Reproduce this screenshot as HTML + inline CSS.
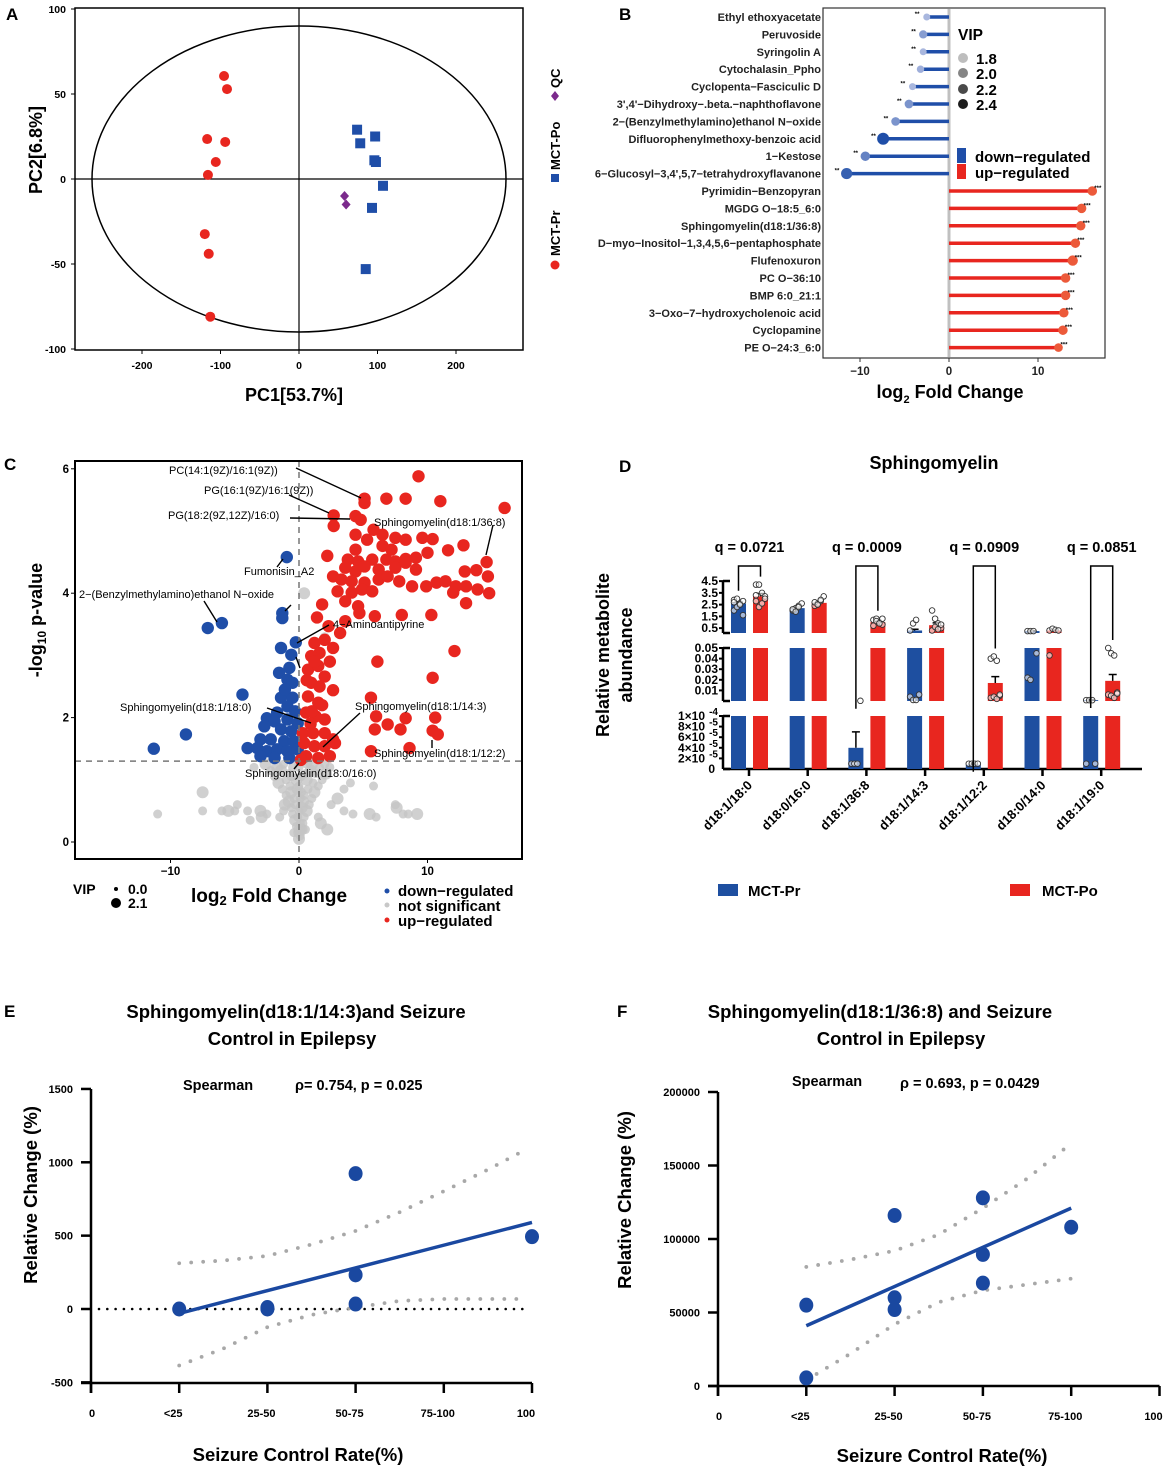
<!DOCTYPE html>
<html><head><meta charset="utf-8"><style>
html,body{margin:0;padding:0;background:#fff;}
svg{display:block;font-family:"Liberation Sans",Arial,sans-serif;}
.b{font-weight:bold;}
</style></head><body>
<svg id="fig" width="1169" height="1469" viewBox="0 0 1169 1469" xmlns="http://www.w3.org/2000/svg">
<rect width="1169" height="1469" fill="#fff"/>
<text x="6" y="20" class="b" font-size="17">A</text>
<text x="619" y="20" class="b" font-size="17">B</text>
<text x="4" y="470" class="b" font-size="17">C</text>
<text x="619" y="472" class="b" font-size="17">D</text>
<text x="4" y="1017" class="b" font-size="17">E</text>
<text x="617" y="1017" class="b" font-size="17">F</text>

<g id="pA">
<rect x="75" y="8" width="448" height="342" fill="none" stroke="#000" stroke-width="1.5"/>
<text x="294" y="401" class="b" font-size="18" text-anchor="middle">PC1[53.7%]</text>
<text transform="translate(42,150) rotate(-90)" class="b" font-size="18" text-anchor="middle">PC2[6.8%]</text>
<g>
<text transform="translate(560,256) rotate(-90)" class="b" font-size="13">MCT-Pr</text>
<text transform="translate(560,170) rotate(-90)" class="b" font-size="13">MCT-Po</text>
<text transform="translate(560,88) rotate(-90)" class="b" font-size="13">QC</text>
<circle cx="555" cy="265" r="4.5" fill="#e8261f"/>
<rect x="551" y="174" width="8" height="8" fill="#1f4ea8"/>
<path d="M555 91 L559 96 L555 101 L551 96Z" fill="#7b2a8c"/>
</g>
</g>

<g id="pB">
<rect x="823" y="8" width="282" height="350" fill="none" stroke="#333" stroke-width="1.2"/>
<text x="950" y="398" class="b" font-size="18" text-anchor="middle">log<tspan font-size="11" dy="5">2</tspan><tspan dy="-5"> Fold Change</tspan></text>
<text x="958" y="40" class="b" font-size="15.5">VIP</text>
<circle cx="963" cy="58" r="5" fill="#bdbdbd"/>
<circle cx="963" cy="73" r="5" fill="#858585"/>
<circle cx="963" cy="89" r="5" fill="#4a4a4a"/>
<circle cx="963" cy="104" r="5" fill="#1c1c1c"/>
<text x="976" y="64" class="b" font-size="15">1.8</text>
<text x="976" y="79" class="b" font-size="15">2.0</text>
<text x="976" y="95" class="b" font-size="15">2.2</text>
<text x="976" y="110" class="b" font-size="15">2.4</text>
<rect x="957" y="148" width="9" height="15" fill="#1f4ea8"/>
<rect x="957" y="164" width="9" height="15" fill="#e8261f"/>
<text x="975" y="162" class="b" font-size="15">down−regulated</text>
<text x="975" y="178" class="b" font-size="15">up−regulated</text>
</g>

<g id="pC">
<text transform="translate(42,620) rotate(-90)" class="b" font-size="18" text-anchor="middle">-log<tspan font-size="12" dy="4">10</tspan><tspan dy="-4"> p-value</tspan></text>
<text x="191" y="902" class="b" font-size="19">log<tspan font-size="13" dy="3">2</tspan><tspan dy="-3">  Fold Change</tspan></text>
<text x="73" y="894" class="b" font-size="14">VIP</text>
<circle cx="116" cy="889" r="2" fill="#000"/>
<circle cx="116" cy="903" r="5" fill="#000"/>
<text x="128" y="894" class="b" font-size="14">0.0</text>
<text x="128" y="908" class="b" font-size="14">2.1</text>
<circle cx="387" cy="891" r="2.5" fill="#1f4ea8"/>
<circle cx="387" cy="905" r="2.5" fill="#c8c8c8"/>
<circle cx="387" cy="920" r="2.5" fill="#e8261f"/>
<text x="398" y="896" class="b" font-size="15">down−regulated</text>
<text x="398" y="911" class="b" font-size="15">not significant</text>
<text x="398" y="926" class="b" font-size="15">up−regulated</text>
</g>

<g id="pD">
<text x="934" y="469" class="b" font-size="18" text-anchor="middle">Sphingomyelin</text>
<text transform="translate(609,655) rotate(-90)" class="b" font-size="18" text-anchor="middle">Relative metabolite</text>
<text transform="translate(632,655) rotate(-90)" class="b" font-size="18" text-anchor="middle">abundance</text>
<rect x="718" y="884" width="20" height="12" fill="#1e4fa0"/>
<text x="748" y="896" class="b" font-size="15">MCT-Pr</text>
<rect x="1010" y="884" width="20" height="12" fill="#e8261f"/>
<text x="1042" y="896" class="b" font-size="15">MCT-Po</text>
</g>

<g id="pE">
<text x="296" y="1018" class="b" font-size="18.5" text-anchor="middle">Sphingomyelin(d18:1/14:3)and Seizure</text>
<text x="292" y="1045" class="b" font-size="18.5" text-anchor="middle">Control in Epilepsy</text>
<text x="183" y="1090" class="b" font-size="14.5">Spearman</text>
<text x="295" y="1090" class="b" font-size="14.5">ρ= 0.754, p = 0.025</text>
<text transform="translate(37,1195) rotate(-90)" class="b" font-size="18.5" text-anchor="middle">Relative Change (%)</text>
<text x="298" y="1461" class="b" font-size="18.5" text-anchor="middle">Seizure Control Rate(%)</text>
</g>

<g id="pF">
<text x="880" y="1018" class="b" font-size="18.5" text-anchor="middle">Sphingomyelin(d18:1/36:8) and Seizure</text>
<text x="901" y="1045" class="b" font-size="18.5" text-anchor="middle">Control in Epilepsy</text>
<text x="792" y="1086" class="b" font-size="14.5">Spearman</text>
<text x="900" y="1088" class="b" font-size="14.5">ρ = 0.693, p = 0.0429</text>
<text transform="translate(631,1200) rotate(-90)" class="b" font-size="18.5" text-anchor="middle">Relative Change (%)</text>
<text x="942" y="1462" class="b" font-size="18.5" text-anchor="middle">Seizure Control Rate(%)</text>
</g>
</svg>

<script>
// Panel A (PCA)
const pcaPrX = [-95.5,-91.7,-117,-94,-106,-116,-120,-115,-113];
const pcaPrY = [60.6,52.9,23.5,21.8,10,2.4,-32.4,-44,-81];
const pcaPoX = [74,97,78,96,98,107,93,85];
const pcaPoY = [29,25,21,11,10,-4,-17,-53];
const pcaQcX = [58,60];
const pcaQcY = [-10,-15];
const pcaXTicks = [-200,-100,0,100,200];
const pcaYTicks = [100,50,0,-50,-100];

// Panel B (lollipop)
const bNames = ["Ethyl ethoxyacetate","Peruvoside","Syringolin A","Cytochalasin_Ppho","Cyclopenta−Fasciculic D","3',4'−Dihydroxy−.beta.−naphthoflavone","2−(Benzylmethylamino)ethanol N−oxide","Difluorophenylmethoxy-benzoic acid","1−Kestose","6−Glucosyl−3,4',5,7−tetrahydroxyflavanone","Pyrimidin−Benzopyran","MGDG O−18:5_6:0","Sphingomyelin(d18:1/36:8)","D−myo−Inositol−1,3,4,5,6−pentaphosphate","Flufenoxuron","PC O−36:10","BMP 6:0_21:1","3−Oxo−7−hydroxycholenoic acid","Cyclopamine","PE O−24:3_6:0"];
const bFC = [-2.5,-2.9,-2.9,-3.2,-4.1,-4.5,-6.0,-7.4,-9.4,-11.5,16.1,14.9,14.8,14.2,13.9,13.1,13.1,12.9,12.8,12.3];
const bVIP = [1.8,1.95,1.8,1.85,1.8,2.0,2.0,2.4,2.1,2.3,2.1,2.1,2.1,2.1,2.2,2.1,2.1,2.1,2.1,2.0];
const bXTicks = [-10,0,10];

// Panel C (volcano) [log2FC, -log10 p]
const upPts = [[9.3,5.88],[5.1,5.52],[5.1,5.45],[6.8,5.52],[8.3,5.52],[11.0,5.48],[16.0,5.37],[2.7,5.25],[2.7,5.08],[4.4,5.24],[4.8,5.18],[4.4,4.94],[5.8,5.02],[5.3,4.86],[6.5,4.94],[7.5,4.89],[8.3,4.86],[9.6,4.89],[10.4,4.87],[11.6,4.69],[12.8,4.77],[2.2,4.6],[4.4,4.7],[6.5,4.76],[7.2,4.7],[8.3,4.55],[9.1,4.57],[10.0,4.65],[3.8,4.54],[4.6,4.51],[5.7,4.54],[6.8,4.54],[7.5,4.51],[3.6,4.41],[4.4,4.35],[5.1,4.43],[6.2,4.38],[7.5,4.41],[8.3,4.49],[9.1,4.38],[12.9,4.35],[13.8,4.37],[14.6,4.5],[14.7,4.27],[2.65,4.27],[3.3,4.22],[4.1,4.19],[5.1,4.17],[6.2,4.22],[6.9,4.27],[7.8,4.19],[8.8,4.11],[9.9,4.11],[10.7,4.17],[11.4,4.19],[12.2,4.11],[13.0,4.11],[13.9,4.06],[14.8,4.0],[12.0,4.01],[3.0,4.03],[4.1,4.01],[4.9,4.06],[5.7,4.03],[3.6,3.87],[4.6,3.79],[4.7,3.68],[5.9,3.63],[8.0,3.65],[10.3,3.65],[13.0,3.84],[1.8,3.82],[1.4,3.61],[2.3,3.47],[3.2,3.36],[3.6,3.55],[1.2,3.2],[2.0,3.25],[2.65,3.12],[1.6,3.04],[0.95,2.99],[12.1,3.07],[6.1,2.9],[0.7,2.77],[1.5,2.83],[2.0,2.66],[10.4,2.64],[0.95,2.56],[1.6,2.5],[2.65,2.44],[5.6,2.32],[0.7,2.34],[1.5,2.24],[0.55,2.08],[1.3,2.02],[2.0,1.97],[6.0,2.02],[8.3,1.99],[10.6,2.0],[5.9,1.81],[6.9,1.89],[7.9,1.81],[10.4,1.79],[10.8,1.73],[0.3,1.75],[1.1,1.75],[2.0,1.75],[2.65,1.65],[0.4,1.59],[1.2,1.54],[2.0,1.54],[2.8,1.59],[5.6,1.46],[8.6,1.51],[0.55,1.38],[1.5,1.35],[2.4,1.38],[0.15,1.32],[0.9,1.9],[1.8,2.2],[0.6,2.6],[1.2,2.9],[2.4,2.9],[1.0,2.1]];
const downPts = [[-0.95,4.58],[-1.3,3.68],[-1.3,3.6],[-6.0,3.52],[-7.1,3.44],[-0.25,3.21],[-1.4,3.12],[-0.6,3.01],[-0.75,2.8],[-1.55,2.72],[-0.9,2.61],[-0.5,2.56],[-4.4,2.37],[-1.4,2.32],[-0.5,2.32],[-0.9,2.18],[-1.7,2.08],[-2.5,1.99],[-1.9,1.94],[-0.9,1.97],[-0.1,1.91],[-2.7,1.86],[-1.4,1.81],[-0.6,1.78],[-8.8,1.73],[-3.0,1.65],[-2.2,1.65],[-1.15,1.62],[-0.4,1.62],[-4.0,1.51],[-3.25,1.51],[-2.5,1.46],[-1.7,1.49],[-0.9,1.46],[-0.1,1.49],[-11.3,1.5],[-3.0,1.38],[-1.9,1.35],[-0.75,1.35],[-0.3,2.1],[-1.1,2.45]];
const nsPts = [[0,0.05],[0.1,0.1],[-0.1,0.15],[0.2,0.2],[-0.2,0.25],[0.3,0.3],[-0.3,0.35],[0.4,0.4],[-0.5,0.45],[0.6,0.5],[-0.6,0.55],[0.8,0.6],[-0.8,0.65],[1.0,0.7],[-1.0,0.75],[1.2,0.8],[-1.3,0.85],[1.5,0.9],[-1.6,0.95],[1.8,1.0],[-1.9,1.05],[2.1,1.1],[-2.2,1.15],[2.4,1.2],[-2.6,1.25],[0,0.5],[0.2,0.8],[-0.2,1.0],[0.5,1.1],[-0.5,1.2],[1,1.25],[-1,1.0],[0,1.2],[0.3,0.65],[-0.4,0.7],[0,0.9],[0.6,1.0],[-0.7,0.9],[1.3,1.1],[-1.4,1.15],[0.1,0.3],[-0.1,0.4],[0.2,0.55],[-0.3,0.6],[0.4,0.75],[-0.6,0.8],[0.7,0.85],[-0.8,1.1],[0.9,1.15],[-1.2,1.25],[1.6,1.2],[-1.7,1.2],[2.0,1.25],[0.1,0.7],[-0.1,0.85],[0.15,1.05],[-0.05,1.28],[0.6,1.28],[-0.6,1.05],[1.1,0.95],[-1.1,0.6],[0.5,0.2],[-0.4,0.15],[0.05,0.2],[-7.5,0.5],[-6,0.5],[-5.5,0.5],[-5,0.5],[-4,0.5],[-3,0.5],[-2.5,0.45],[-11,0.45],[-7.5,0.8],[-4.8,0.6],[-3.8,0.35],[5.5,0.45],[6,0.4],[7.5,0.6],[7.6,0.55],[8.1,0.45],[8.5,0.45],[9.2,0.45],[4.2,0.45],[3.5,0.5],[3,0.7],[2.5,0.6],[5.8,0.9],[0.4,4.0],[2,3.3],[4,0.95],[-2.9,0.4],[-1.5,0.4],[1.5,0.4],[2.2,0.2],[3.5,0.85],[-3.5,1.2],[1.7,0.3],[-1.2,0.5]];
const volcXTicks = [-10,0,10];
const volcYTicks = [0,2,4,6];

// Panel D (bar chart)
const dCats = ["d18:1/18:0","d18:0/16:0","d18:1/36:8","d18:1/14:3","d18:1/12:2","d18:0/14:0","d18:1/19:0"];
const dPr = [2.6,2.2,0.00004,0.3,0.000008,0.25,0.0008];
const dPo = [3.2,2.65,1.0,0.75,0.017,0.3,0.019];
const dPrErr = [0.15,0.1,0.00003,0.1,0.000001,0.02,0.0001];
const dPoErr = [0.25,0.12,0.1,0.2,0.006,0.05,0.006];
const dPrPts = [[2.0,2.3,2.6,2.8,2.9,3.0,2.5,1.6,2.7],[2.0,2.2,2.4,2.6,2.1,1.9,2.3],[0.00001,0.00001,0.00001,0.0002],[0.3,0.9,1.2,0.006,0.004,0.001,0.001],[0.00001,0.00001,0.00001,0.00001],[0.25,0.25,0.25,0.045,0.022,0.02],[0.0008,0.0008,0.0008,0.00001,0.00001]];
const dPoPts = [[4.2,4.2,3.5,3.2,2.8,2.3,2.6,3.0,3.3],[2.4,2.6,2.8,3.2,2.7,2.5,2.9],[1.2,1.3,1.0,0.8,0.7,1.1,0.9,1.3],[2.0,1.3,0.9,0.5,0.3,0.6,0.4,0.8],[0.04,0.042,0.038,0.005,0.003,0.004,0.002,0.006],[0.3,0.45,0.35,0.3,0.043],[0.05,0.045,0.043,0.008,0.006,0.005,0.003,0.007]];
const dQ = ["q = 0.0721","q = 0.0009","q = 0.0909","q = 0.0851"];
const dQIdx = [0,2,4,6];
const dTopTicks = [4.5,3.5,2.5,1.5,0.5];
const dMidTicks = [0.05,0.04,0.03,0.02,0.01];
const dBotTicks = ["1×10","8×10","6×10","4×10","2×10"];
const dBotExp = ["-4","-5","-5","-5","-5"];
const dBotVals = [0.0001,0.00008,0.00006,0.00004,0.00002];

// Panel E
const eCats = ["0","<25","25-50","50-75","75-100","100"];
const eX = [1,2,2,3,3,3,5];
const eY = [0,0,10,923,233,34,493];
const eFitX = [1,5];
const eFitY = [-30,590];
const eCiX = [1,1.5,2,2.5,3,3.5,4,4.5,4.95];
const eUp = [312,330,362,440,532,660,803,950,1093];
const eLo = [-385,-270,-124,-40,11,55,68,68,68];
const eYTicks = [1500,1000,500,0,-500];

// Panel F
const fCats = ["0","<25","25-50","50-75","75-100","100"];
const fX = [1,1,2,2,2,3,3,3,4];
const fY = [55000,5500,116000,60000,52000,128000,89500,70000,108000];
const fFitX = [1,4];
const fFitY = [41000,121000];
const fCiX = [1,1.5,2,2.5,3,3.5,4];
const fUp = [81000,86000,92000,103000,121000,141000,165000];
const fLo = [4000,22000,42000,57000,65000,69000,73000];
const fYTicks = [200000,150000,100000,50000,0];

const NS = "http://www.w3.org/2000/svg";
const svg = document.getElementById("fig");
function mk(tag, attrs, parent){
  const e = document.createElementNS(NS, tag);
  for (const k in attrs) e.setAttribute(k, attrs[k]);
  (parent || svg).appendChild(e);
  return e;
}
function txt(s, attrs, parent){ const t = mk("text", attrs, parent); t.textContent = s; return t; }
const BLUE = "#1f4ea8", RED = "#e8261f";

// ===== Panel A =====
(function(){
  const g = document.getElementById("pA");
  const ax = x => 299 + x*0.785, ay = y => 179 - y*1.7;
  let e;
  e = mk("ellipse",{cx:ax(0),cy:ay(0),rx:207,ry:153,fill:"none",stroke:"#000","stroke-width":1.5},g);
  
  
  e = mk("line",{x1:75,x2:523,y1:ay(0),y2:ay(0),stroke:"#000","stroke-width":1.2},g);
  
  
  e = mk("line",{x1:ax(0),x2:ax(0),y1:8,y2:350,stroke:"#000","stroke-width":1.2},g);
  
  
  pcaXTicks.forEach(v=>{
    const t = txt(String(v),{x:ax(v),y:369,"font-size":10.5,"font-weight":"bold","text-anchor":"middle"},g);
    
    
    const l = mk("line",{x1:ax(v),x2:ax(v),y1:350,y2:354,stroke:"#000"},g);
    
    
  });
  pcaYTicks.forEach(v=>{
    const t = txt(String(v),{x:66,y:ay(v)+4,"font-size":10.5,"font-weight":"bold","text-anchor":"end"},g);
    
    
    const l = mk("line",{x1:71,x2:75,y1:ay(v),y2:ay(v),stroke:"#000"},g);
    
    
  });
  pcaPrX.forEach((x,i)=>{
    const c = mk("circle",{cx:ax(x),cy:ay(pcaPrY[i]),r:5,fill:RED},g);
    
    
  });
  pcaPoX.forEach((x,i)=>{
    const r = mk("rect",{x:ax(x)-5,y:ay(pcaPoY[i])-5,width:10,height:10,fill:BLUE},g);
    
    
  });
  pcaQcX.forEach((x,i)=>{
    const cx = ax(x), cy = ay(pcaQcY[i]);
    const p = mk("path",{d:`M${cx} ${cy-5}L${cx+4.5} ${cy}L${cx} ${cy+5}L${cx-4.5} ${cy}Z`,fill:"#7b2a8c"},g);
    
    
  });
})();

// ===== Panel B =====
(function(){
  const g = document.getElementById("pB");
  const x0 = 949, sx = 8.9;
  const bx = v => x0 + v*sx, by = i => 17 + i*17.4;
  let e = mk("line",{x1:x0,x2:x0,y1:9,y2:357,stroke:"#c0c0c0","stroke-width":3},g);
  
  
  bXTicks.forEach(v=>{
    const t = txt(v<0?"−"+Math.abs(v):String(v),{x:bx(v),y:375,"font-size":11.5,"font-weight":"bold","text-anchor":"middle",fill:"#222"},g);
    
    
    const l = mk("line",{x1:bx(v),x2:bx(v),y1:358,y2:362,stroke:"#333"},g);
    
    
  });
  bNames.forEach((n,i)=>{
    const y = by(i), v = bFC[i], up = v > 0;
    const t = txt(n,{x:821,y:y+4,"font-size":11,"font-weight":"bold","text-anchor":"end",fill:"#222"},g);
    
    
    const s = mk("line",{x1:x0,x2:bx(v),y1:y,y2:y,stroke:up?RED:BLUE,"stroke-width":3.5},g);
    
    
    const k = Math.max(0,Math.min(1,(bVIP[i]-1.8)/0.6));
    const r = 3.5 + k*2.5;
    let col;
    if (up) col = "#ec5a3a";
    else { const a = 0.25 + 0.75*k; const mix=(c1,c2)=>Math.round(c1*(1-a)+c2*a); col = `rgb(${mix(215,31)},${mix(218,78)},${mix(240,168)})`; }
    const c = mk("circle",{cx:bx(v),cy:y,r:r,fill:col},g);
    
    
    const st = txt(up?"***":"**",{x:bx(v)+(up?2:-12),y:y-1,"font-size":6,"font-weight":"bold"},g);
    
    
  });
})();

// ===== Panel C =====
(function(){
  const g = document.getElementById("pC");
  const cx = v => 299 + v*12.85, cy = v => 842 - v*62.2;
  const clip = mk("clipPath",{id:"volcClip"},g);
  mk("rect",{x:75,y:461,width:447,height:398},clip);
  const pg = mk("g",{"clip-path":"url(#volcClip)"},g);
  
  
  nsPts.forEach((p,i)=>{
    const c = mk("circle",{cx:cx(p[0]),cy:cy(p[1]),r:(i%3===0?6:4.5),fill:"#c4c4c4","fill-opacity":0.8},pg);
    
    
  });
  let e = mk("line",{x1:cx(0),x2:cx(0),y1:461,y2:859,stroke:"#777","stroke-width":1.5,"stroke-dasharray":"6 5"},g);
  
  
  e = mk("line",{x1:75,x2:522,y1:cy(1.3),y2:cy(1.3),stroke:"#777","stroke-width":1.5,"stroke-dasharray":"6 5"},g);
  
  
  downPts.forEach(p=>{
    const c = mk("circle",{cx:cx(p[0]),cy:cy(p[1]),r:6.2,fill:BLUE},pg);
    
    
  });
  upPts.forEach(p=>{
    const c = mk("circle",{cx:cx(p[0]),cy:cy(p[1]),r:6.2,fill:RED},pg);
    
    
  });
  e = mk("rect",{x:75,y:461,width:447,height:398,fill:"none",stroke:"#000","stroke-width":2},g);
  
  
  volcXTicks.forEach(v=>{
    const t = txt(v<0?"−"+Math.abs(v):String(v),{x:cx(v),y:875,"font-size":11.5,"font-weight":"bold","text-anchor":"middle"},g);
    
    
    const l = mk("line",{x1:cx(v),x2:cx(v),y1:859,y2:863,stroke:"#000"},g);
    
    
  });
  volcYTicks.forEach(v=>{
    const t = txt(String(v),{x:69,y:cy(v)+4,"font-size":11.5,"font-weight":"bold","text-anchor":"end"},g);
    
    
    const l = mk("line",{x1:71,x2:75,y1:cy(v),y2:cy(v),stroke:"#000"},g);
    
    
  });
  const ann = [
    ["PC(14:1(9Z)/16:1(9Z))",169,474,[[296,468,361,498]]],
    ["PG(16:1(9Z)/16:1(9Z))",204,494,[[289,495,329,513]]],
    ["PG(18:2(9Z,12Z)/16:0)",168,519,[[290,518,350,519]]],
    ["Sphingomyelin(d18:1/36:8)",374,526,[[493,525,486,555]]],
    ["Fumonisin_A2",244,575,[[277,567,283,559]]],
    ["2−(Benzylmethylamino)ethanol N−oxide",79,598,[[204,601,217,622],[285,611,291,605]]],
    ["4−Aminoantipyrine",333,628,[[297,643,329,625],[296,657,300,668]]],
    ["Sphingomyelin(d18:1/18:0)",120,711,[[267,708,311,723]]],
    ["Sphingomyelin(d18:1/14:3)",355,710,[[360,713,323,747]]],
    ["Sphingomyelin(d18:1/12:2)",374,757,[[432,740,432,748]]],
    ["Sphingomyelin(d18:0/16:0)",245,777,[[299,763,294,769]]]
  ];
  ann.forEach(a=>{
    a[3].forEach(L=>{
      const l = mk("line",{x1:L[0],y1:L[1],x2:L[2],y2:L[3],stroke:"#000","stroke-width":1.4},g);
      
      
    });
    const t = txt(a[0],{x:a[1],y:a[2],"font-size":11,fill:"#000"},g);
    
    
  });
})();

// ===== Panel D =====
(function(){
  const g = document.getElementById("pD");
  const AX = 723;
  const yTop = v => 634 - v*11.75, yMid = v => 701 - v*1060, yBot = v => 769 - v*530000;
  const yPt = v => v > 0.06 ? yTop(v) : (v >= 0.00011 ? yMid(v) : yBot(v));
  const bl = i => 731 + i*58.7;
  [[581,633],[648,701],[716,769]].forEach(s=>{
    const l = mk("line",{x1:AX,x2:AX,y1:s[0],y2:s[1],stroke:"#000","stroke-width":2.5},g);
    
    
    [s[0],s[1]].forEach(y=>{ const c = mk("line",{x1:AX,x2:AX+7,y1:y,y2:y,stroke:"#000","stroke-width":2.5},g);
      
       });
  });
  dTopTicks.forEach(v=>{
    const t = txt(String(v),{x:AX-5,y:yTop(v)+4,"font-size":12,"font-weight":"bold","text-anchor":"end"},g);
    
    
    const l = mk("line",{x1:AX-4,x2:AX,y1:yTop(v),y2:yTop(v),stroke:"#000","stroke-width":2},g);
    
    
  });
  dMidTicks.forEach(v=>{
    const t = txt(String(v),{x:AX-5,y:yMid(v)+4,"font-size":12,"font-weight":"bold","text-anchor":"end"},g);
    
    
    const l = mk("line",{x1:AX-4,x2:AX,y1:yMid(v),y2:yMid(v),stroke:"#000","stroke-width":2},g);
    
    
  });
  dBotVals.forEach((v,i)=>{
    const t = txt(dBotTicks[i],{x:AX-18,y:yBot(v)+4,"font-size":12,"font-weight":"bold","text-anchor":"end"},g);
    
    
    const s = txt(dBotExp[i],{x:AX-5,y:yBot(v)-1,"font-size":10,"font-weight":"bold","text-anchor":"end"},g);
    
    
    const l = mk("line",{x1:AX-4,x2:AX,y1:yBot(v),y2:yBot(v),stroke:"#000","stroke-width":2},g);
    
    
  });
  const z = txt("0",{x:AX-8,y:773,"font-size":12,"font-weight":"bold","text-anchor":"end"},g);
  
  
  let e = mk("line",{x1:AX,x2:1142,y1:769,y2:769,stroke:"#000","stroke-width":2.5},g);
  
  
  function drawBar(x, v, err, pts, col, name){
    if (v > 0.05) { const r = mk("rect",{x:x,y:yTop(v),width:15,height:633-yTop(v),fill:col},g);
        }
    if (v > 0.0001) { const top = yMid(Math.min(v,0.05)); const r = mk("rect",{x:x,y:top,width:15,height:701-top,fill:col},g);
        }
    { const top = yBot(Math.min(v,0.0001)); const r = mk("rect",{x:x,y:top,width:15,height:769-top,fill:col},g);
        }
    const ye = yPt(v+err), yv = yPt(v);
    const el = mk("path",{d:`M${x+7.5} ${yv}V${ye}M${x+3.5} ${ye}H${x+11.5}`,stroke:"#000","stroke-width":1.5,fill:"none"},g);
    
    
    pts.forEach((p,j)=>{
      const c = mk("circle",{cx:x+3+(j%4)*3,cy:yPt(p),r:2.8,fill:"#fff","fill-opacity":0.6,stroke:"#333","stroke-width":0.9},g);
      
      
    });
  }
  dCats.forEach((c,i)=>{
    drawBar(bl(i), dPr[i], dPrErr[i], dPrPts[i], "#1e4fa0", "bar-mct-pr");
    drawBar(bl(i)+22, dPo[i], dPoErr[i], dPoPts[i], RED, "bar-mct-po");
    const tx = bl(i)+18;
    const tk = mk("line",{x1:tx,x2:tx,y1:769,y2:776,stroke:"#000","stroke-width":2.5},g);
    
    
    const t = txt(c,{transform:`translate(${tx+4},${786}) rotate(-45)`,"font-size":13,"font-weight":"bold","text-anchor":"end"},g);
    
    
  });
  dQIdx.forEach((i,k)=>{
    const xl = bl(i)+7.5, xr = bl(i)+29.5;
    let topL = yPt(Math.max(...dPrPts[i], dPr[i]+dPrErr[i])) - 8;
    if (topL > 600) topL = topL + 16;
    const topR = yPt(Math.max(...dPoPts[i], dPo[i]+dPoErr[i])) - 8;
    const p = mk("path",{d:`M${xl} ${topL}V566H${xr}V${topR}`,stroke:"#000","stroke-width":1.5,fill:"none"},g);
    
    
    const t = txt(dQ[k],{x:(xl+xr)/2,y:552,"font-size":14.5,"font-weight":"bold","text-anchor":"middle"},g);
    
    
  });
})();

// ===== Scatter panels E/F =====
function corrPanel(gid, o){
  const g = document.getElementById(gid);
  const sx = v => o.x0 + v*o.step, sy = v => o.y0 - (v - o.ymin)*o.ys;
  let e = mk("line",{x1:o.x0,x2:o.x0,y1:sy(o.ymax),y2:o.axisY+10,stroke:"#000","stroke-width":2.5},g);
  
  
  e = mk("line",{x1:o.x0-10,x2:sx(5),y1:o.axisY,y2:o.axisY,stroke:"#000","stroke-width":2.5},g);
  
  
  o.yTicks.forEach(v=>{
    const t = txt(String(v),{x:o.x0-18,y:sy(v)+4,"font-size":11,"font-weight":"bold","text-anchor":"end"},g);
    
    
    const l = mk("line",{x1:o.x0-10,x2:o.x0,y1:sy(v),y2:sy(v),stroke:"#000","stroke-width":2.5},g);
    
    
  });
  o.cats.forEach((c,i)=>{
    const l = mk("line",{x1:sx(i),x2:sx(i),y1:o.axisY,y2:o.axisY+10,stroke:"#000","stroke-width":2.5},g);
    
    
    const t = txt(c,{x:sx(i)-(i===0?-1:6),y:o.axisY+34,"font-size":11,"font-weight":"bold","text-anchor":"middle"},g);
    
    
  });
  if (o.zeroLine) {
    const z = mk("line",{x1:sx(0)+8,x2:sx(4.95),y1:sy(0),y2:sy(0),stroke:"#000","stroke-width":2.6,"stroke-linecap":"round","stroke-dasharray":"0 8.3"},g);
    
    
  }
  const up = mk("polyline",{points:o.ciX.map((x,i)=>sx(x)+","+sy(o.up[i])).join(" "),fill:"none",stroke:"#a8a8a8","stroke-width":3.8,"stroke-linecap":"round","stroke-dasharray":"0 12"},g);
  
  
  const lo = mk("polyline",{points:o.ciX.map((x,i)=>sx(x)+","+sy(o.lo[i])).join(" "),fill:"none",stroke:"#a8a8a8","stroke-width":3.8,"stroke-linecap":"round","stroke-dasharray":"0 12"},g);
  
  
  const fit = mk("line",{x1:sx(o.fitX[0]),y1:sy(o.fitY[0]),x2:sx(o.fitX[1]),y2:sy(o.fitY[1]),stroke:"#1a48a0","stroke-width":3.5},g);
  
  
  o.X.forEach((x,i)=>{
    const c = mk("ellipse",{cx:sx(x),cy:sy(o.Y[i]),rx:7,ry:7.5,fill:"#1a48a0"},g);
    
    
  });
}
corrPanel("pE",{x0:91,step:88.2,y0:1309,ymin:0,ys:0.1467,ymax:1500,axisY:1383,yTicks:eYTicks,cats:eCats,X:eX,Y:eY,fitX:eFitX,fitY:eFitY,ciX:eCiX,up:eUp,lo:eLo,zeroLine:true});
corrPanel("pF",{x0:718,step:88.3,y0:1386,ymin:0,ys:0.00147,ymax:200000,axisY:1386,yTicks:fYTicks,cats:fCats,X:fX,Y:fY,fitX:fFitX,fitY:fFitY,ciX:fCiX,up:fUp,lo:fLo,zeroLine:false});
</script>
</body></html>
